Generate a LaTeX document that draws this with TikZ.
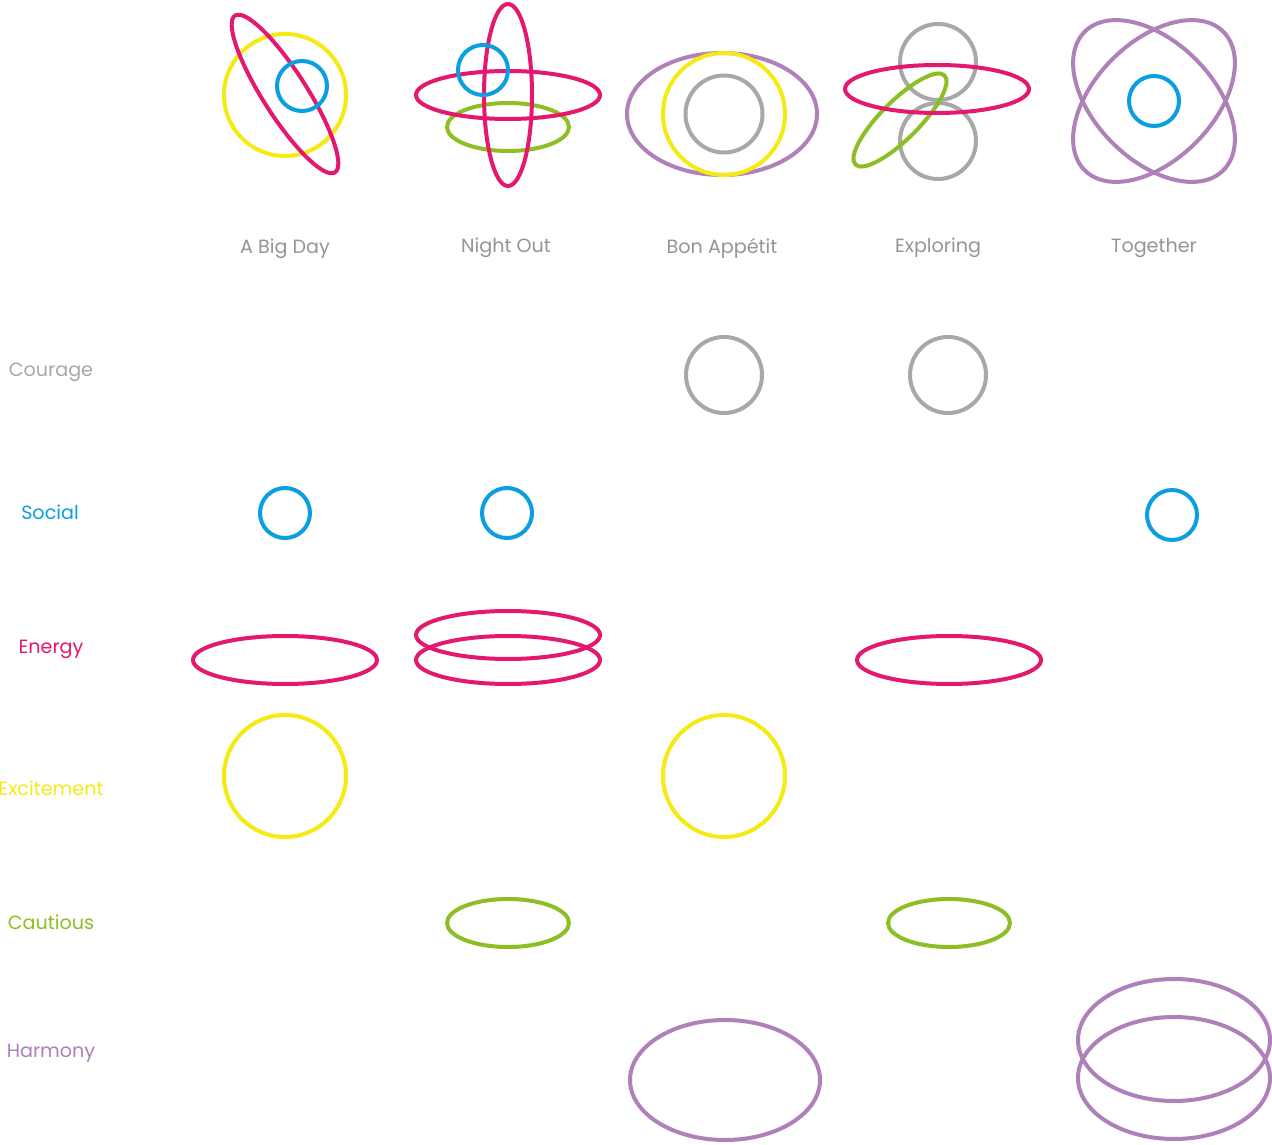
\documentclass[tikz,border=0pt]{standalone}
\usepackage{fontspec}
\setmainfont{Poppins}
\definecolor{cpink}{HTML}{E4186F}
\definecolor{cyellow}{HTML}{F5EA14}
\definecolor{cblue}{HTML}{0A9FE0}
\definecolor{cgreen}{HTML}{8DBE23}
\definecolor{cpurple}{HTML}{AF80B9}
\definecolor{cgrey}{HTML}{A8A8A8}
\definecolor{ctext}{HTML}{959595}
\begin{document}
\begin{tikzpicture}[x=0.02cm,y=-0.02cm,
  ring/.style={line width=0.08cm},
  lbl/.style={inner sep=0pt, font=\fontsize{10.9}{12}\selectfont},
  title/.style={lbl, text=ctext}]
\useasboundingbox[fill=white] (0,0) rectangle (1272,1145);

% ---------- top row ----------
% A Big Day
\draw[ring, cyellow] (285,95) circle [radius=61];
\draw[ring, cpink, shift={(285,94)}, rotate=-57.5] (0,0) ellipse [x radius=93, y radius=22];
\draw[ring, cblue] (302,86) circle [radius=25];
% Night Out
\draw[ring, cgreen] (508,127) ellipse [x radius=61, y radius=24];
\draw[ring, cpink] (508,95) ellipse [x radius=92, y radius=24];
\draw[ring, cpink] (508,95) ellipse [x radius=24, y radius=91];
\draw[ring, cblue] (483,70) circle [radius=25];
% Bon Appetit
\draw[ring, cpurple] (722,114) ellipse [x radius=95, y radius=61];
\draw[ring, cyellow] (724,114) circle [radius=61];
\draw[ring, cgrey] (724,114) circle [radius=38.5];
% Exploring
\draw[ring, cgrey] (938,62) circle [radius=38];
\draw[ring, cgrey] (938,141) circle [radius=38];
\draw[ring, cgreen, shift={(900,120)}, rotate=45] (0,0) ellipse [x radius=63, y radius=19];
\draw[ring, cpink] (937,89) ellipse [x radius=92, y radius=24];
% Together
\draw[ring, cpurple, shift={(1154,101)}, rotate=45] (0,0) ellipse [x radius=98, y radius=59];
\draw[ring, cpurple, shift={(1154,101)}, rotate=-45] (0,0) ellipse [x radius=98, y radius=59];
\draw[ring, cblue] (1154,101) circle [radius=25];

% column titles
\node[title] (t1) at (285,249) {A Big Day};
\node[title] (t2) at (506,248) {Night Out};
\node[title] (t3) at (722,249) {Bon Appétit};
\node[title] (t4) at (938,248) {Exploring};
\node[title] (t5) at (1154,248) {Together};

% ---------- row labels ----------
\node[lbl, text=cgrey] (r1) at (51,372) {Courage};
\node[lbl, text=cblue] (r2) at (50,512) {Social};
\node[lbl, text=cpink] (r3) at (51,649) {Energy};
\node[lbl, text=cyellow] (r4) at (51,788) {Excitement};
\node[lbl, text=cgreen] (r5) at (51,922) {Cautious};
\node[lbl, text=cpurple] (r6) at (51,1053) {Harmony};

% Courage
\draw[ring, cgrey] (724,375) circle [radius=38];
\draw[ring, cgrey] (948,375) circle [radius=38];
% Social
\draw[ring, cblue] (285,513) circle [radius=25];
\draw[ring, cblue] (507,513) circle [radius=25];
\draw[ring, cblue] (1172,515) circle [radius=25];
% Energy
\draw[ring, cpink] (285,660) ellipse [x radius=92, y radius=24];
\draw[ring, cpink] (508,635) ellipse [x radius=92, y radius=24];
\draw[ring, cpink] (508,660) ellipse [x radius=92, y radius=24];
\draw[ring, cpink] (949,660) ellipse [x radius=92, y radius=24];
% Excitement
\draw[ring, cyellow] (285,776) circle [radius=61];
\draw[ring, cyellow] (724,776) circle [radius=61];
% Cautious
\draw[ring, cgreen] (508,923) ellipse [x radius=61, y radius=24];
\draw[ring, cgreen] (949,923) ellipse [x radius=61, y radius=24];
% Harmony
\draw[ring, cpurple] (725,1080) ellipse [x radius=95, y radius=60];
\draw[ring, cpurple] (1174,1040) ellipse [x radius=96, y radius=61];
\draw[ring, cpurple] (1174,1078) ellipse [x radius=96, y radius=61];
\end{tikzpicture}
\end{document}
